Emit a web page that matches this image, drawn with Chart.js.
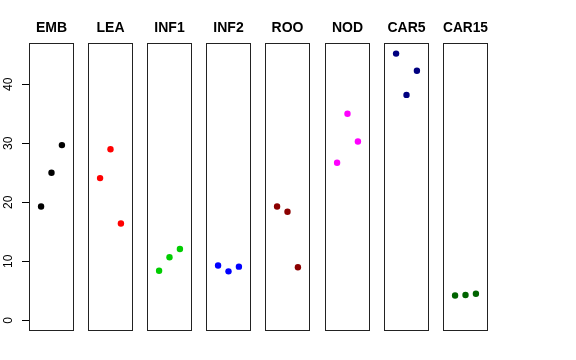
<!DOCTYPE html>
<html>
<head>
<meta charset="utf-8">
<script src="https://cdn.jsdelivr.net/npm/chart.js@4/dist/chart.umd.min.js"></script>
<style>
html,body{margin:0;padding:0;background:#fff;width:576px;height:360px;overflow:hidden;}
#wrap{position:relative;width:576px;height:360px;}
canvas{position:absolute;top:0;}
</style>
</head>
<body>
<div id="wrap"></div>
<script>
// ---- data ----
const categories = ['EMB','LEA','INF1','INF2','ROO','NOD','CAR5','CAR15'];
const replicates = [1, 2, 3];
const EMB   = [19.3, 25.0, 29.7];
const LEA   = [24.1, 29.0, 16.4];
const INF1  = [8.4, 10.7, 12.1];
const INF2  = [9.3, 8.3, 9.1];
const ROO   = [19.3, 18.4, 9.0];
const NOD   = [26.7, 35.0, 30.3];
const CAR5  = [45.2, 38.2, 42.3];
const CAR15 = [4.2, 4.3, 4.5];
const yTicks = [0, 10, 20, 30, 40];

const seriesValues = [EMB, LEA, INF1, INF2, ROO, NOD, CAR5, CAR15];
const colors = ['#000000','#FF0000','#00CD00','#0000FF','#8B0000','#FF00FF','#000080','#006400'];

// ---- layout ----
const panelLefts = [29, 88, 147, 206, 265, 325, 384, 443];
const panelW = 45;
const yAxisW = 29;
const FONT = "'Liberation Sans', Arial, Helvetica, sans-serif";

const yMin = -1.81, yMax = 47.0;
const xMin = -0.16, xMax = 4.16;

const boxPlugin = {
  id: 'panelBox',
  afterDatasetsDraw(chart) {
    const a = chart.chartArea, ctx = chart.ctx;
    ctx.save();
    ctx.strokeStyle = '#222';
    ctx.lineWidth = 1;
    ctx.strokeRect(Math.round(a.left) + 0.5, Math.round(a.top) + 0.5,
                   Math.round(a.right - a.left) - 1, Math.round(a.bottom - a.top) - 1);
    ctx.restore();
  }
};

const yLabelPlugin = {
  id: 'yLabels',
  afterDraw(chart) {
    const s = chart.scales.y;
    if (!s || !s.options.display) return;
    const ctx = chart.ctx;
    ctx.save();
    ctx.fillStyle = '#000';
    ctx.font = '12px ' + FONT;
    ctx.textAlign = 'center';
    ctx.textBaseline = 'alphabetic';
    s.ticks.forEach(t => {
      const y = s.getPixelForValue(t.value);
      ctx.save();
      ctx.translate(12, y);
      ctx.rotate(-Math.PI / 2);
      ctx.fillText(String(t.value), 0, 0);
      ctx.restore();
    });
    ctx.restore();
  }
};

const wrap = document.getElementById('wrap');

categories.forEach((cat, i) => {
  const first = i === 0;
  const pad = 5;
  const canvasLeft = first ? 0 : panelLefts[i] - pad;
  const canvasW = first ? yAxisW + panelW + pad : panelW + 2 * pad;
  const cv = document.createElement('canvas');
  cv.width = canvasW;
  cv.height = 360;
  cv.style.left = canvasLeft + 'px';
  cv.style.width = canvasW + 'px';
  cv.style.height = '360px';
  wrap.appendChild(cv);

  new Chart(cv.getContext('2d'), {
    type: 'scatter',
    data: {
      datasets: [{
        data: replicates.map((r, j) => ({ x: r, y: seriesValues[i][j] })),
        backgroundColor: colors[i],
        borderColor: colors[i],
        pointRadius: 3.2,
        pointBorderWidth: 0,
        pointHoverRadius: 3.2
      }]
    },
    options: {
      responsive: false,
      animation: false,
      events: [],
      layout: { padding: { left: first ? 0 : pad, right: pad, top: 0, bottom: 29 } },
      plugins: {
        legend: { display: false },
        tooltip: { enabled: false },
        title: {
          display: true,
          fullSize: !first,
          text: cat,
          color: '#000',
          font: { family: FONT, size: 14, weight: 'bold' },
          padding: { top: 19.6, bottom: 6.6 }
        }
      },
      scales: {
        x: { type: 'linear', display: false, min: xMin, max: xMax },
        y: {
          type: 'linear',
          display: first,
          min: yMin,
          max: yMax,
          afterBuildTicks: s => { s.ticks = yTicks.map(v => ({ value: v })); },
          afterFit: s => { if (first) s.width = yAxisW; },
          ticks: { display: false },
          border: { display: false },
          grid: { drawOnChartArea: false, drawTicks: true, tickLength: 7, color: '#000', tickColor: '#000', lineWidth: 1 }
        }
      }
    },
    plugins: [boxPlugin, yLabelPlugin]
  });
});
</script>
</body>
</html>
